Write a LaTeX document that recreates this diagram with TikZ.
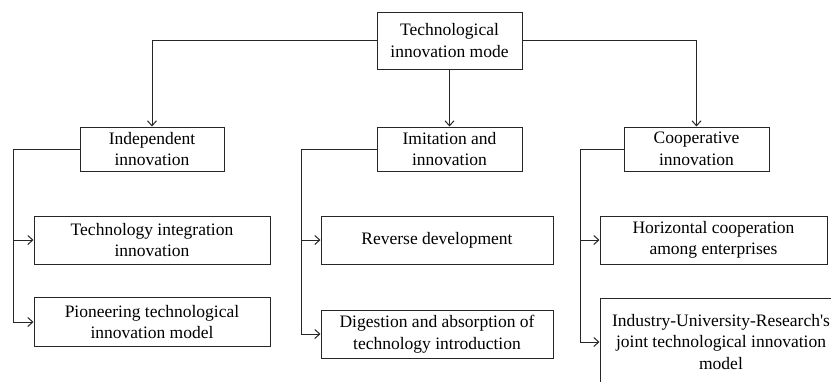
\documentclass[tikz,border=0pt]{standalone}
\usepackage{fontspec}
\setmainfont{Liberation Serif}[Ligatures=TeXOff]
\usetikzlibrary{arrows.meta}
\begin{document}
\begin{tikzpicture}[x=1pt,y=-1pt,
  box/.style={draw=black!85,line width=1pt,inner sep=0pt,align=center,
    font=\fontsize{17.5}{21.5}\selectfont},
  conn/.style={draw=black!85,line width=1pt},
  arr/.style={conn,-{Straight Barb[length=5pt,width=9pt]}}]
\useasboundingbox (0,0) rectangle (831,381);
\clip (0,0) rectangle (831,381);
\fill[white] (0,0) rectangle (831,381);
\node[box,minimum width=145pt,minimum height=57pt] (top) at (449.5,40.5) {Technological\\innovation mode};
\node[box,minimum width=144pt,minimum height=44pt] (ind) at (152,149) {Independent\\innovation};
\node[box,minimum width=145pt,minimum height=44pt] (imi) at (449.5,149) {Imitation and\\innovation};
\node[box,minimum width=145pt,minimum height=44pt] (coop) at (696.5,149) {Cooperative\\innovation};
\node[box,minimum width=236pt,minimum height=48pt] (tii) at (152,240) {Technology integration\\innovation};
\node[box,minimum width=236pt,minimum height=49pt] (pio) at (152,322) {Pioneering technological\\innovation model};
\node[box,minimum width=232pt,minimum height=48pt] (rev) at (437,240) {Reverse development};
\node[box,minimum width=232pt,minimum height=48pt] (dig) at (437,334) {Digestion and absorption of\\technology introduction};
\node[box,minimum width=227pt,minimum height=48pt] (hor) at (713.5,240) {Horizontal cooperation\\among enterprises};
\node[box,minimum width=242pt,minimum height=88pt] (iur) at (721,342) {Industry-University-Research's\\joint technological innovation\\model};
% top level
\draw[arr] (top.west) -| (ind.north);
\draw[arr] (top.south) -- (imi.north);
\draw[arr] (top.east) -| (coop.north);
% branches
\coordinate (a1) at (13,149);
\coordinate (a2) at (13,322);
\draw[conn] (ind.west) -- (a1) -- (a2);
\draw[arr] (a1 |- tii.west) -- (tii.west);
\draw[arr] (a2) -- (pio.west);
\coordinate (b1) at (301,149);
\coordinate (b2) at (301,334);
\draw[conn] (imi.west) -- (b1) -- (b2);
\draw[arr] (b1 |- rev.west) -- (rev.west);
\draw[arr] (b2) -- (dig.west);
\coordinate (c1) at (580,149);
\coordinate (c2) at (580,342);
\draw[conn] (coop.west) -- (c1) -- (c2);
\draw[arr] (c1 |- hor.west) -- (hor.west);
\draw[arr] (c2) -- (iur.west);
\end{tikzpicture}
\end{document}
